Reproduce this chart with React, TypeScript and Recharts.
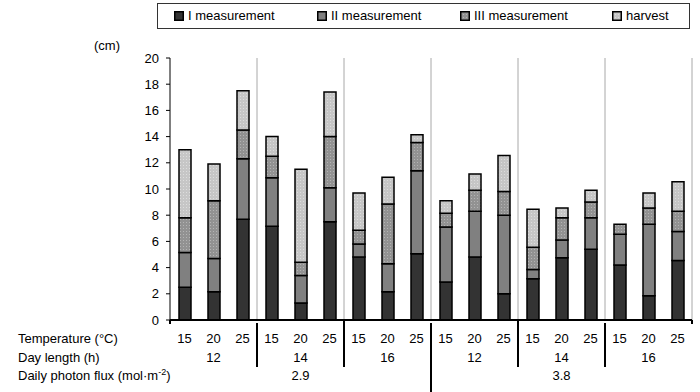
import React from 'react';
import { BarChart, Bar, XAxis, YAxis, CartesianGrid } from 'recharts';

// 18 columns: 2 photon flux levels x 3 day lengths x 3 temperatures
const temperature = ['15', '20', '25', '15', '20', '25', '15', '20', '25', '15', '20', '25', '15', '20', '25', '15', '20', '25'];
const dayLength = ['12', '14', '16', '12', '14', '16'];
const photonFlux = ['2.9', '3.8'];

// stacked segment heights (cm)
const measurement1 = [2.5, 2.15, 7.7, 7.15, 1.3, 7.5, 4.8, 2.15, 5.05, 2.9, 4.8, 2.0, 3.15, 4.75, 5.4, 4.2, 1.85, 4.55];
const measurement2 = [2.65, 2.55, 4.6, 3.7, 2.1, 2.6, 1.0, 2.15, 6.35, 4.2, 3.5, 6.0, 0.7, 1.35, 2.4, 2.35, 5.45, 2.2];
const measurement3 = [2.65, 4.4, 2.2, 1.65, 1.0, 3.9, 1.05, 4.55, 2.15, 1.05, 1.6, 1.8, 1.7, 1.7, 1.2, 0.75, 1.25, 1.55];
const harvest = [5.2, 2.8, 3.0, 1.5, 7.1, 3.4, 2.85, 2.05, 0.6, 0.95, 1.25, 2.75, 2.9, 0.75, 0.9, 0, 1.15, 2.25];

const yTicks = [0, 2, 4, 6, 8, 10, 12, 14, 16, 18, 20];

const series = [
  { key: 'm1', name: 'I measurement', fill: '#333333' },
  { key: 'm2', name: 'II measurement', fill: '#808080' },
  { key: 'm3', name: 'III measurement', fill: 'url(#dots3)' },
  { key: 'h', name: 'harvest', fill: 'url(#dotsH)' },
];

const data = temperature.map((t, i) => ({
  key: `c${i}`,
  temp: t,
  m1: measurement1[i],
  m2: measurement2[i],
  m3: measurement3[i],
  h: harvest[i],
}));

const W = 700;
const H = 392;
const LEFT = 170;
const RIGHT = 8;
const BAND = (W - LEFT - RIGHT) / temperature.length;
const FONT = '"Liberation Sans", Arial, sans-serif';

const TableTick = (props: any) => {
  const { x, y, payload } = props;
  const i = props.index ?? payload.index;
  const txt = { fontSize: 13, fill: '#000', fontFamily: FONT };
  return (
    <g>
      <text x={x} y={y + 23} textAnchor="middle" {...txt}>{temperature[i]}</text>
      {i % 3 === 1 && (
        <text x={x} y={y + 42} textAnchor="middle" {...txt}>{dayLength[Math.floor(i / 3)]}</text>
      )}
      {i % 9 === 4 && (
        <text x={x} y={y + 60} textAnchor="middle" {...txt}>{photonFlux[Math.floor(i / 9)]}</text>
      )}
      {i % 3 === 2 && i !== temperature.length - 1 && (
        <line x1={x + BAND / 2} x2={x + BAND / 2} y1={y + 3} y2={i === 8 ? y + 72 : y + 47} stroke="#000" strokeWidth={2} />
      )}
      {i % 6 === 5 && (
        <line x1={x + BAND / 2} x2={x + BAND / 2} y1={y} y2={y + 4} stroke="#000" strokeWidth={2} />
      )}
      {i === 0 && (
        <g>
          <line x1={x - BAND / 2} x2={x - BAND / 2} y1={y} y2={y + 4} stroke="#000" strokeWidth={2} />
          <text x={18} y={y + 23} {...txt}>Temperature (°C)</text>
          <text x={18} y={y + 42} {...txt}>Day length (h)</text>
          <text x={18} y={y + 60} {...txt}>
            Daily photon flux (mol·m<tspan fontSize={9} dy={-5}>-2</tspan><tspan dy={5}>)</tspan>
          </text>
        </g>
      )}
    </g>
  );
};

const Swatch = ({ fill }: { fill: string }) => (
  <svg width={10} height={10} style={{ display: 'block' }}>
    <rect x={0.75} y={0.75} width={8.5} height={8.5} fill={fill} stroke="#000" strokeWidth={1.5} />
  </svg>
);

const legendX = [174, 317, 460, 612];

export default function App() {
  return (
    <div style={{ position: 'absolute', left: 0, top: 0, width: W, height: H, fontFamily: FONT, background: '#fff' }}>
      <svg width={0} height={0} style={{ position: 'absolute' }}>
        <defs>
          <pattern id="dots3" width={3} height={3} patternUnits="userSpaceOnUse">
            <rect width={3} height={3} fill="#929292" />
            <rect width={1} height={1} fill="#b4b4b4" />
          </pattern>
          <pattern id="dotsH" width={3} height={3} patternUnits="userSpaceOnUse">
            <rect width={3} height={3} fill="#c6c6c6" />
            <rect width={1} height={1} fill="#dddddd" />
          </pattern>
        </defs>
      </svg>

      <div
        style={{
          position: 'absolute', left: 157, top: 3, width: 533, height: 26,
          border: '1px solid #333', boxSizing: 'border-box',
        }}
      >
        {series.map((s, i) => (
          <div
            key={s.key}
            style={{ position: 'absolute', left: legendX[i] - 158, top: 4, display: 'flex', alignItems: 'center', gap: 4, fontSize: 13, whiteSpace: 'nowrap' }}
          >
            <Swatch fill={s.fill} />
            <span>{s.name}</span>
          </div>
        ))}
      </div>

      <div style={{ position: 'absolute', left: 94, top: 38, fontSize: 13 }}>(cm)</div>

      <BarChart
        width={W}
        height={H}
        data={data}
        margin={{ top: 58, right: RIGHT, left: 0, bottom: 0 }}
        barSize={12}
      >
        <CartesianGrid
          horizontal={false}
          stroke="#a8a8a8"
          verticalCoordinatesGenerator={({ offset }: any) =>
            [3, 6, 9, 12, 15, 18].map((k) => offset.left + (offset.width * k) / temperature.length)
          }
        />
        <XAxis
          dataKey="key"
          height={H - 320}
          interval={0}
          tickSize={0}
          tickMargin={0}
          tickLine={false}
          axisLine={{ stroke: '#000', strokeWidth: 2 }}
          tick={<TableTick />}
        />
        <YAxis
          width={LEFT}
          domain={[0, 20]}
          ticks={yTicks}
          interval={0}
          tickSize={4}
          tickMargin={7}
          axisLine={{ stroke: '#000' }}
          tickLine={{ stroke: '#000' }}
          tick={{ fill: '#000', fontSize: 13 }}
        />
        {series.map((s) => (
          <Bar
            key={s.key}
            dataKey={s.key}
            name={s.name}
            stackId="a"
            fill={s.fill}
            stroke="#000"
            strokeWidth={1.5}
            isAnimationActive={false}
          />
        ))}
      </BarChart>
    </div>
  );
}
